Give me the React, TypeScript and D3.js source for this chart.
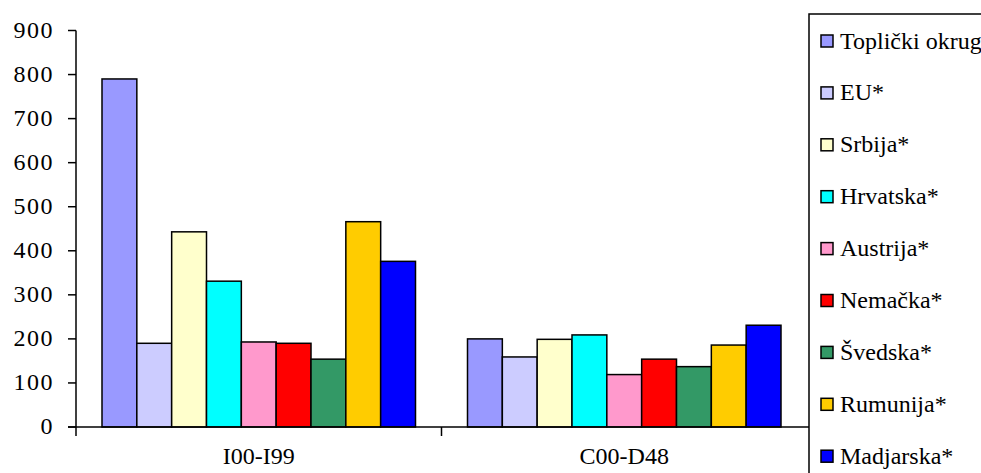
import React from "react";
import * as d3 from "d3";

const categories = ["I00-I99", "C00-D48"];
const seriesNames = ["Toplički okrug", "EU*", "Srbija*", "Hrvatska*", "Austrija*", "Nemačka*", "Švedska*", "Rumunija*", "Madjarska*"];
const seriesColors = ["#9999FF", "#CCCCFF", "#FFFFCC", "#00FFFF", "#FF99CC", "#FF0000", "#339966", "#FFCC00", "#0000FF"];
const valuesI00 = [790, 190, 443, 331, 193, 190, 154, 466, 376];
const valuesC00 = [200, 159, 199, 209, 119, 154, 137, 186, 231];
const yTicks = [0, 100, 200, 300, 400, 500, 600, 700, 800, 900];

const seriesValues = [valuesI00, valuesC00];

const textStyle: React.CSSProperties = { fontFamily: "'Liberation Serif', 'Times New Roman', serif" };

export default function App() {
  const W = 981, H = 473;
  const left = 76, right = 807, top = 30.5, bottom = 427;

  const x0 = d3.scaleBand<string>().domain(categories).range([left, right]).paddingInner(0).paddingOuter(0);
  const bw = x0.bandwidth();
  const x1 = d3.scaleBand<string>().domain(seriesNames).range([26, bw - 26]).padding(0);
  const y = d3.scaleLinear().domain([0, 900]).range([bottom, top]);

  return (
    <svg width={W} height={H} style={{ position: "absolute", left: 0, top: 0, background: "#fff" }}>
      {categories.map((c, ci) => (
        <g key={c} transform={`translate(${x0(c)},0)`}>
          {seriesNames.map((s, si) => {
            const v = seriesValues[ci][si];
            return (
              <rect
                key={s}
                x={x1(s)}
                y={y(v)}
                width={x1.bandwidth()}
                height={y(0) - y(v)}
                fill={seriesColors[si]}
                stroke="#000"
                strokeWidth={1.5}
              />
            );
          })}
        </g>
      ))}
      <line x1={left} x2={left} y1={top} y2={bottom + 9} stroke="#000" strokeWidth={1.5} />
      {yTicks.map((t) => (
        <g key={t}>
          <line x1={left - 8} x2={left} y1={y(t)} y2={y(t)} stroke="#000" strokeWidth={1.5} />
          <text x={54} y={y(t) + 7} textAnchor="end" fontSize={24} letterSpacing={1.5} fill="#000" style={textStyle}>
            {t}
          </text>
        </g>
      ))}
      <line x1={left - 8} x2={809} y1={bottom} y2={bottom} stroke="#000" strokeWidth={1.5} />
      {categories.map((c, ci) => (
        <g key={c}>
          {ci > 0 && (
            <line x1={x0(c)} x2={x0(c)} y1={bottom} y2={bottom + 9} stroke="#000" strokeWidth={1.5} />
          )}
          <text x={(x0(c) as number) + bw / 2} y={464} textAnchor="middle" fontSize={24} fill="#000" style={textStyle}>
            {c}
          </text>
        </g>
      ))}
      <rect x={809} y={14} width={300} height={500} fill="#fff" stroke="#000" strokeWidth={1.5} />
      {seriesNames.map((s, i) => {
        const cy = 41 + i * 51.9;
        return (
          <g key={s}>
            <rect x={821} y={cy - 6} width={12} height={12} fill={seriesColors[i]} stroke="#000" strokeWidth={1.5} />
            <text x={840} y={cy + 7.5} fontSize={24} fill="#000" style={textStyle}>
              {s}
            </text>
          </g>
        );
      })}
    </svg>
  );
}
